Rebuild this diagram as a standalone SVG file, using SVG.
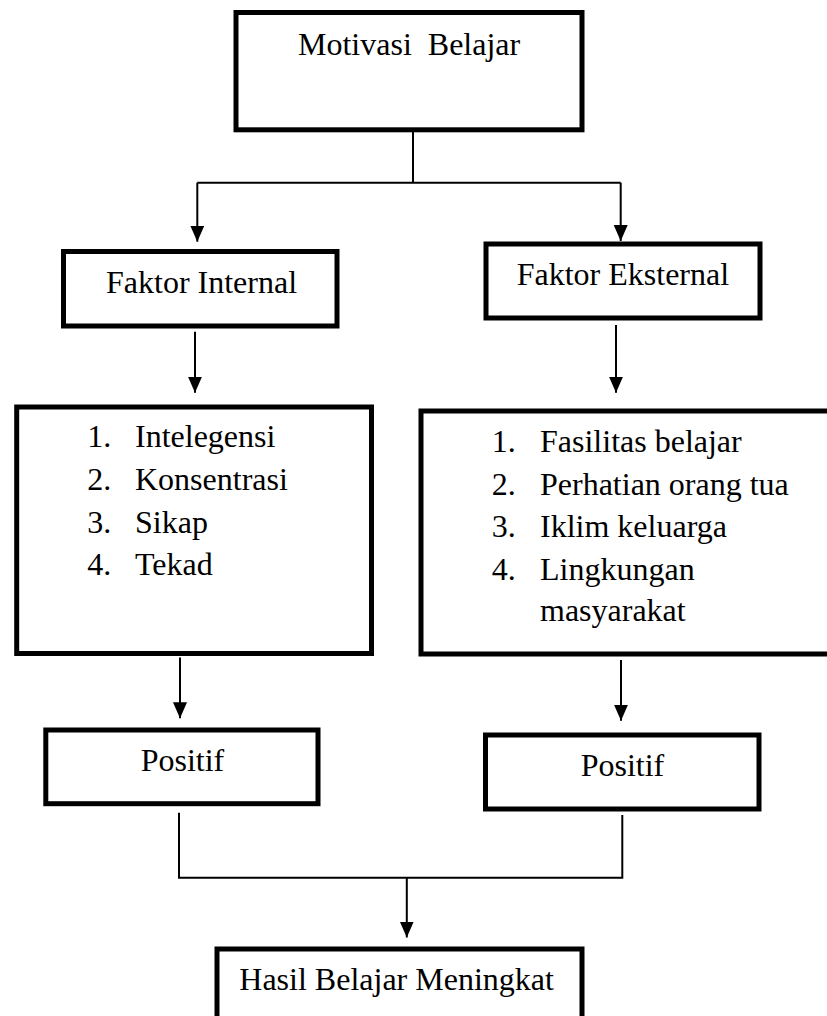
<svg xmlns="http://www.w3.org/2000/svg" width="827" height="1016" viewBox="0 0 827 1016">
<style>
.box{fill:#fff;stroke:#000;stroke-width:5}
.t{font-size:32px;fill:#000}
.c{fill:none;stroke:#000;stroke-width:2}
</style>
<defs>
<marker id="ah" markerUnits="userSpaceOnUse" markerWidth="16" markerHeight="14" refX="16" refY="7" orient="auto">
<path d="M0,0 L16,7 L0,14 z" fill="#000"/>
</marker>
</defs>
<rect width="827" height="1016" fill="#fff"/>
<g id="connectors">
<path class="c" d="M413,132 V182.7"/>
<path class="c" d="M197.3,182.7 H620.7"/>
<path class="c" d="M197.3,182.7 V241.7" marker-end="url(#ah)"/>
<path class="c" d="M620.7,182.7 V241" marker-end="url(#ah)"/>
<path class="c" d="M195,331.7 V392.7" marker-end="url(#ah)"/>
<path class="c" d="M616,325 V392.7" marker-end="url(#ah)"/>
<path class="c" d="M180,657.5 V718.3" marker-end="url(#ah)"/>
<path class="c" d="M621,660 V720.7" marker-end="url(#ah)"/>
<path class="c" d="M179,812.7 V877.7 H622.3 V815"/>
<path class="c" d="M406.8,877.7 V937.5" marker-end="url(#ah)"/>
</g>
<g font-family="Liberation Serif, DejaVu Serif, serif">
<g id="motivasi">
<rect class="box" x="236" y="12.5" width="346" height="117.3"/>
<text class="t" x="298" y="55" xml:space="preserve">Motivasi  Belajar</text>
</g>
<g id="faktor-internal">
<rect class="box" x="63.5" y="251.5" width="273.5" height="74.5"/>
<text class="t" x="106" y="293.3">Faktor Internal</text>
</g>
<g id="faktor-eksternal">
<rect class="box" x="486" y="244" width="274" height="74"/>
<text class="t" x="516.7" y="285">Faktor Eksternal</text>
</g>
<g id="list-internal">
<rect class="box" x="16.7" y="407" width="354.8" height="246.5"/>
<text class="t" x="87.3" y="447.3">1.</text><text class="t" x="135" y="447.3">Intelegensi</text>
<text class="t" x="87.3" y="490">2.</text><text class="t" x="135" y="490">Konsentrasi</text>
<text class="t" x="87.3" y="532.7">3.</text><text class="t" x="135" y="532.7">Sikap</text>
<text class="t" x="87.3" y="575">4.</text><text class="t" x="135" y="575">Tekad</text>
</g>
<g id="list-eksternal">
<rect class="box" x="421" y="411" width="415" height="243"/>
<text class="t" x="491.7" y="452.3">1.</text><text class="t" x="540" y="452.3">Fasilitas belajar</text>
<text class="t" x="491.7" y="495">2.</text><text class="t" x="540" y="495">Perhatian orang tua</text>
<text class="t" x="491.7" y="537">3.</text><text class="t" x="540" y="537">Iklim keluarga</text>
<text class="t" x="491.7" y="580">4.</text><text class="t" x="540" y="580">Lingkungan</text>
<text class="t" x="540" y="621">masyarakat</text>
</g>
<g id="positif-internal">
<rect class="box" x="45.8" y="730" width="272.2" height="73.7"/>
<text class="t" x="140.7" y="770.7">Positif</text>
</g>
<g id="positif-eksternal">
<rect class="box" x="485.5" y="735" width="273.5" height="74"/>
<text class="t" x="580.7" y="776">Positif</text>
</g>
<g id="hasil">
<rect class="box" x="217" y="949" width="365" height="90"/>
<text class="t" x="239.3" y="990">Hasil Belajar Meningkat</text>
</g>
</g>
</svg>
